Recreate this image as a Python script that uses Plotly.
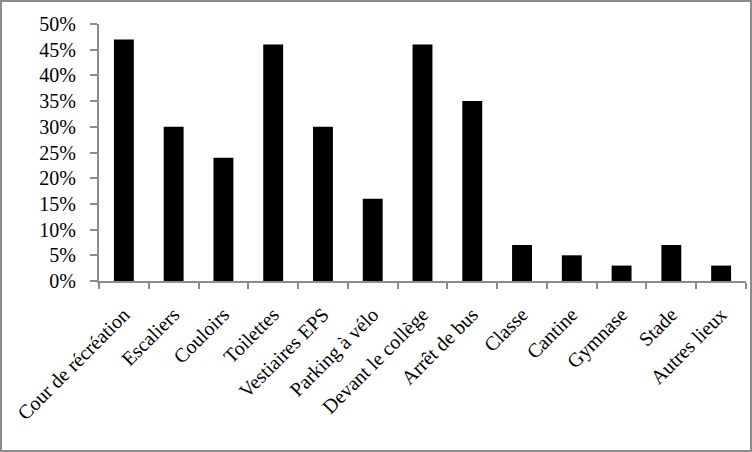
import plotly.graph_objects as go

categories = ["Cour de récréation", "Escaliers", "Couloirs", "Toilettes", "Vestiaires EPS",
              "Parking à vélo", "Devant le collège", "Arrêt de bus", "Classe", "Cantine",
              "Gymnase", "Stade", "Autres lieux"]
values = [0.47, 0.30, 0.24, 0.46, 0.30, 0.16, 0.46, 0.35, 0.07, 0.05, 0.03, 0.07, 0.03]
y_ticks = [0, 0.05, 0.10, 0.15, 0.20, 0.25, 0.30, 0.35, 0.40, 0.45, 0.50]
y_tick_labels = ["0%", "5%", "10%", "15%", "20%", "25%", "30%", "35%", "40%", "45%", "50%"]

W, H = 752, 452
ML, MR, MT, MB = 99, 6, 24, 171
pw, ph = W - ML - MR, H - MT - MB

fig = go.Figure(go.Bar(x=categories, y=values, marker=dict(color="black", line=dict(width=0))))

axis_color = "#8c8c8c"
fig.update_layout(
    width=W, height=H,
    margin=dict(l=ML, r=MR, t=MT, b=MB, pad=0),
    paper_bgcolor="white", plot_bgcolor="white",
    bargap=0.6, showlegend=False,
    font=dict(family="Liberation Serif", size=20, color="black"),
)
fig.update_xaxes(
    tickangle=-45, showline=True, linecolor=axis_color, linewidth=2,
    ticks="outside", ticklen=6, tickcolor=axis_color, tickwidth=2,
    tickson="boundaries", showgrid=False, zeroline=False, automargin=False,
    ticklabelstandoff=12,
    tickfont=dict(family="Liberation Serif", size=20),
)
fig.update_yaxes(
    range=[0, 0.5], tickvals=y_ticks, ticktext=y_tick_labels,
    showline=True, linecolor=axis_color, linewidth=2,
    ticks="outside", ticklen=7, tickcolor=axis_color, tickwidth=2,
    showgrid=False, zeroline=False, automargin=False,
    ticklabelstandoff=10,
    tickfont=dict(family="Liberation Serif", size=20),
)
# outer border
fig.add_shape(type="rect", xref="paper", yref="paper",
              x0=(1 - ML) / pw, x1=(W - 1 - ML) / pw,
              y0=-(MB - 1) / ph, y1=(H - 1 - MB) / ph,
              line=dict(color=axis_color, width=2), fillcolor="rgba(0,0,0,0)")

fig.write_html("out.html", config={"displayModeBar": False},
               post_script="document.body.style.margin='0';document.body.style.overflow='hidden';")
